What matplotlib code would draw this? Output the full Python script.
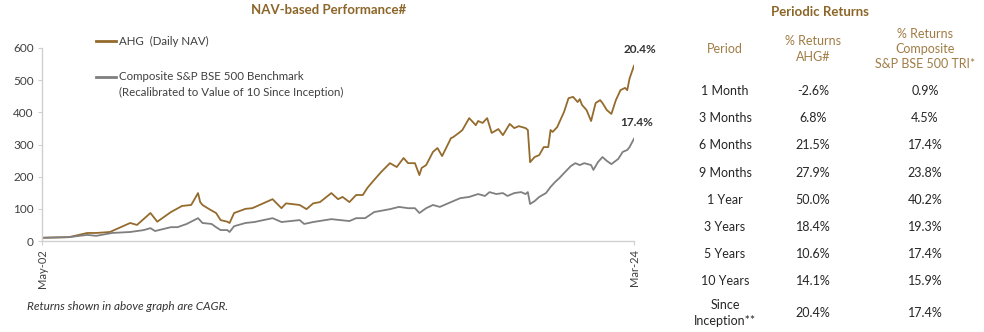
import matplotlib
matplotlib.use("Agg")
import matplotlib.pyplot as plt
import pandas as pd

plt.rcParams['font.family'] = ['Lato', 'DejaVu Sans']

# ---- NAV series (recalibrated to 10 at inception) ----
ahg_dates = ["2002-05", "2003-05", "2004-01", "2004-05", "2004-11", "2005-08", "2005-11",
             "2006-05", "2006-08", "2007-02", "2007-07", "2007-11", "2008-02", "2008-03",
             "2008-04", "2008-07", "2008-10", "2008-12", "2009-03", "2009-04", "2009-06",
             "2009-11", "2010-02", "2010-11", "2011-03", "2011-05", "2011-11", "2012-02",
             "2012-05", "2012-08", "2013-01", "2013-04", "2013-06", "2013-09", "2013-12",
             "2014-03", "2014-05", "2014-08", "2014-11", "2015-03", "2015-06", "2015-09",
             "2015-11", "2016-02", "2016-04", "2016-05", "2016-07", "2016-10", "2016-12",
             "2017-02", "2017-06", "2017-07", "2017-10", "2017-11", "2018-02", "2018-05",
             "2018-06", "2018-08", "2018-10", "2018-12", "2019-03", "2019-05", "2019-08",
             "2019-10", "2019-12", "2020-03", "2020-04", "2020-05", "2020-07", "2020-09",
             "2020-11", "2021-01", "2021-02", "2021-03", "2021-05", "2021-08", "2021-10",
             "2021-12", "2022-02", "2022-03", "2022-04", "2022-06", "2022-08", "2022-10",
             "2022-12", "2023-01", "2023-03", "2023-05", "2023-07", "2023-09", "2023-11",
             "2023-12", "2024-01", "2024-03"]
ahg_nav = [10, 12, 25, 25, 28, 56, 50,
           87, 60, 90, 109, 112, 149, 121,
           112, 99, 87, 65, 60, 56, 87,
           100, 102, 130, 102, 117, 112, 99,
           117, 121, 149, 130, 137, 121, 143,
           143, 165, 190, 214, 242, 230, 258,
           242, 242, 205, 227, 236, 277, 289,
           264, 320, 323, 339, 345, 382, 360,
           373, 367, 382, 336, 348, 329, 364,
           351, 357, 351, 345, 245, 261, 267,
           292, 292, 345, 339, 354, 401, 444,
           448, 432, 441, 423, 407, 373, 429,
           438, 429, 407, 395, 438, 469, 476,
           469, 505, 545]

bench_dates = ["2002-05", "2003-05", "2004-01", "2004-05", "2004-12", "2005-08", "2006-02",
               "2006-05", "2006-07", "2007-02", "2007-05", "2007-09", "2008-02", "2008-04",
               "2008-08", "2008-10", "2008-12", "2009-03", "2009-04", "2009-06", "2009-11",
               "2010-03", "2010-11", "2011-03", "2011-11", "2012-01", "2012-05", "2013-01",
               "2013-05", "2013-09", "2013-12", "2014-04", "2014-08", "2015-03", "2015-07",
               "2015-11", "2016-02", "2016-04", "2016-07", "2016-10", "2017-01", "2017-06",
               "2017-10", "2018-02", "2018-06", "2018-09", "2018-11", "2019-02", "2019-05",
               "2019-07", "2019-10", "2020-01", "2020-03", "2020-04", "2020-05", "2020-07",
               "2020-09", "2020-12", "2021-02", "2021-04", "2021-06", "2021-08", "2021-11",
               "2022-01", "2022-03", "2022-05", "2022-08", "2022-09", "2022-11", "2023-01",
               "2023-03", "2023-05", "2023-08", "2023-10", "2023-12", "2024-01", "2024-03"]
bench_nav = [10, 12, 19, 16, 25, 28, 34,
             40, 31, 43, 43, 53, 71, 56,
             53, 43, 34, 34, 28, 46, 56,
             59, 71, 59, 65, 53, 59, 68,
             65, 62, 71, 71, 90, 99, 106,
             102, 102, 87, 102, 112, 106, 121,
             133, 137, 146, 140, 152, 146, 149,
             140, 149, 152, 146, 152, 115, 124,
             137, 149, 168, 183, 196, 211, 233,
             242, 236, 242, 236, 221, 245, 261,
             249, 239, 255, 277, 283, 292, 318]

cagr_labels = ["20.4%", "17.4%"]
x_tick_dates = ["2002-05", "2024-03"]
x_tick_labels = ["May-02", "Mar-24"]
y_ticks = [0, 100, 200, 300, 400, 500, 600]

# ---- Periodic returns table ----
periods = ["1 Month", "3 Months", "6 Months", "9 Months", "1 Year", "3 Years",
           "5 Years", "10 Years", "Since\nInception**"]
ret_ahg = ["-2.6%", "6.8%", "21.5%", "27.9%", "50.0%", "18.4%", "10.6%", "14.1%", "20.4%"]
ret_bench = ["0.9%", "4.5%", "17.4%", "23.8%", "40.2%", "19.3%", "17.4%", "15.9%", "17.4%"]
table_headers = ["Period", "% Returns\nAHG#", "% Returns\nComposite\nS&P BSE 500 TRI*"]

GOLD = "#946b2d"
TITLE_GOLD = "#8c6528"
HEAD_GOLD = "#a07c45"
GRAY = "#7f7f7f"
TEXT = "#404040"

W, H = 984, 332
fig = plt.figure(figsize=(W / 100, H / 100), dpi=100)


def fx(px):
    return px / W


def fy(py):
    return 1 - py / H


ax = fig.add_axes([fx(42), fy(241), fx(634) - fx(42), fy(48) - fy(241)])

ad = pd.to_datetime(ahg_dates)
bd = pd.to_datetime(bench_dates)
ax.plot(ad, ahg_nav, color=GOLD, lw=1.3, solid_joinstyle="round")
ax.plot(bd, bench_nav, color=GRAY, lw=1.3, solid_joinstyle="round")

xt = pd.to_datetime(x_tick_dates)
ax.set_xlim(xt[0], xt[1])
ax.set_ylim(0, 600)
ax.set_yticks(y_ticks)
ax.set_yticklabels([str(v) for v in y_ticks], fontsize=8.5, color=TEXT)
ax.set_xticks(xt)
ax.set_xticklabels(x_tick_labels, rotation=90, fontsize=8, color=TEXT)
for s in ["top", "right"]:
    ax.spines[s].set_visible(False)
for s in ["left", "bottom"]:
    ax.spines[s].set_color("#d0d0d0")
    ax.spines[s].set_linewidth(1.0)
ax.tick_params(axis="both", length=3, color="#d0d0d0", pad=3)
ax.patch.set_alpha(0)

# end-point CAGR labels
ax.annotate(cagr_labels[0], (ad[-1], ahg_nav[-1]), xytext=(4, 8), textcoords="offset points",
            ha="center", va="bottom", fontsize=8.5, color="#333333", fontweight="bold")
ax.annotate(cagr_labels[1], (bd[-1], bench_nav[-1]), xytext=(2, 8), textcoords="offset points",
            ha="center", va="bottom", fontsize=8.5, color="#333333", fontweight="bold")

# title and legend
fig.text(fx(329), fy(10), "NAV-based Performance#", ha="center", va="center",
         fontsize=9.5, color=TITLE_GOLD, fontweight="bold")
fig.add_artist(plt.Line2D([fx(96), fx(116)], [fy(41), fy(41)], color=GOLD, lw=2))
fig.text(fx(119), fy(41), "AHG  (Daily NAV)", ha="left", va="center", fontsize=8.3, color=TEXT)
fig.add_artist(plt.Line2D([fx(96), fx(116)], [fy(77), fy(77)], color=GRAY, lw=2))
fig.text(fx(119), fy(77), "Composite S&P BSE 500 Benchmark", ha="left", va="center",
         fontsize=8.3, color=TEXT)
fig.text(fx(119), fy(92), "(Recalibrated to Value of 10 Since Inception)", ha="left",
         va="center", fontsize=8.3, color=TEXT)

fig.text(fx(27), fy(307), "Returns shown in above graph are CAGR.", ha="left", va="center",
         fontsize=8.5, color="#333333", style="italic")

# table
col_x = [725, 813, 925]
fig.text(fx(820), fy(12), "Periodic Returns", ha="center", va="center", fontsize=9.5,
         color=TITLE_GOLD, fontweight="bold")
for cx, hdr in zip(col_x, table_headers):
    fig.text(fx(cx), fy(49), hdr, ha="center", va="center", fontsize=9, color=HEAD_GOLD,
             linespacing=1.35)
row_y = [91, 118, 145, 173, 200, 227, 254, 281, 313]
for ry, p, a, b in zip(row_y, periods, ret_ahg, ret_bench):
    fig.text(fx(col_x[0]), fy(ry), p, ha="center", va="center", fontsize=9, color="#262626",
             linespacing=1.35)
    fig.text(fx(col_x[1]), fy(ry), a, ha="center", va="center", fontsize=9, color="#262626")
    fig.text(fx(col_x[2]), fy(ry), b, ha="center", va="center", fontsize=9, color="#262626")

fig.savefig("out.png", dpi=100, facecolor="white")
